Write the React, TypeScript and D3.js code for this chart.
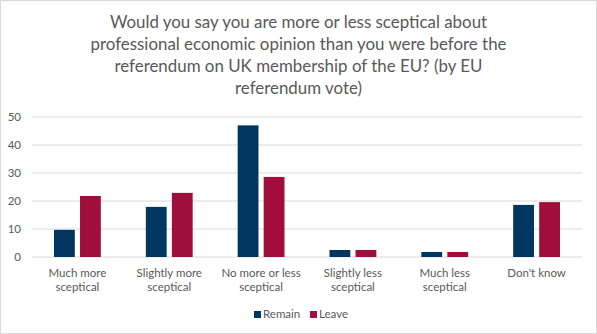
import React from "react";
import * as d3 from "d3";

const categories: string[][] = [
  ["Much more", "sceptical"],
  ["Slightly more", "sceptical"],
  ["No more or less", "sceptical"],
  ["Slightly less", "sceptical"],
  ["Much less", "sceptical"],
  ["Don't know"],
];
const seriesNames = ["Remain", "Leave"];
const remain = [9.7, 17.9, 47, 2.5, 1.8, 18.6];
const leave = [21.8, 22.9, 28.6, 2.5, 1.8, 19.6];
const yTicks = [0, 10, 20, 30, 40, 50];
const titleLines = [
  "Would you say you are more or less sceptical about",
  "professional economic opinion than you were before the",
  "referendum on UK membership of the EU? (by EU",
  "referendum vote)",
];
const colors = ["#003660", "#A00F3C"];

const W = 597;
const H = 334;
const FONT = "Lato, 'Open Sans', sans-serif";
const TXT = "#595959";

export default function App() {
  const left = 31.5;
  const right = 582.5;
  const x0 = d3
    .scaleBand<number>()
    .domain(categories.map((_, i) => i))
    .range([left, right])
    .paddingInner(0.49)
    .paddingOuter(0.245);
  const x1 = d3
    .scaleBand<string>()
    .domain(seriesNames)
    .range([0, x0.bandwidth()])
    .paddingInner(0.2);
  const y = d3.scaleLinear().domain([0, 50]).range([257, 117]);
  const values = [remain, leave];

  return (
    <svg
      width={W}
      height={H}
      style={{ position: "absolute", left: 0, top: 0, background: "#fff" }}
      fontFamily={FONT}
    >
      <rect x={0.5} y={0.5} width={W - 1} height={H - 1} fill="#fff" stroke="#D9D9D9" />
      {titleLines.map((t, i) => (
        <text
          key={i}
          x={W / 2}
          y={28 + i * 22}
          textAnchor="middle"
          fontSize={16.9}
          fill={TXT}
        >
          {t}
        </text>
      ))}
      {yTicks.map((t) => (
        <g key={t}>
          <line x1={left} x2={right} y1={y(t)} y2={y(t)} stroke="#D9D9D9" strokeWidth={1} />
          <text x={21} y={y(t) + 4} textAnchor="end" fontSize={11.5} fill={TXT}>
            {t}
          </text>
        </g>
      ))}
      {seriesNames.map((s, si) =>
        values[si].map((v, ci) => (
          <rect
            key={s + ci}
            x={(x0(ci) as number) + (x1(s) as number)}
            y={y(v)}
            width={x1.bandwidth()}
            height={y(0) - y(v)}
            fill={colors[si]}
          />
        ))
      )}
      {categories.map((lines, ci) => {
        const cx = (x0(ci) as number) + x0.bandwidth() / 2;
        return (
          <text key={ci} x={cx} textAnchor="middle" fontSize={11.5} fill={TXT}>
            {lines.map((l, li) => (
              <tspan key={li} x={cx} y={277 + li * 14}>
                {l}
              </tspan>
            ))}
          </text>
        );
      })}
      {seriesNames.map((s, si) => {
        const lx = si === 0 ? 254 : 310;
        return (
          <g key={s}>
            <rect x={lx} y={311} width={7} height={7} fill={colors[si]} />
            <text x={lx + 9} y={318} fontSize={11.5} fill={TXT}>
              {s}
            </text>
          </g>
        );
      })}
    </svg>
  );
}
